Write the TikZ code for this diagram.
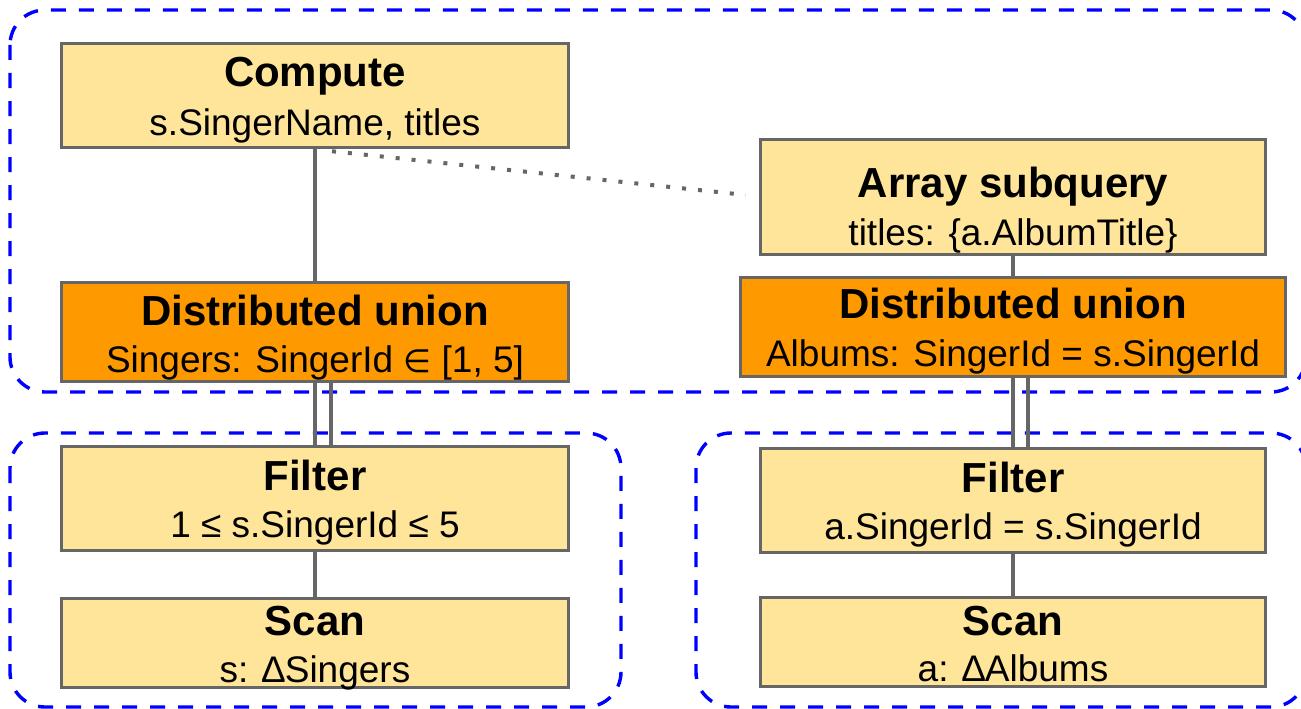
\documentclass[tikz,border=0pt]{standalone}
\usepackage{fontspec}
\setmainfont{Liberation Sans}
\newfontfamily\symfont{DejaVu Sans}
\definecolor{boxyellow}{HTML}{FFE599}
\definecolor{boxorange}{HTML}{FF9900}
\definecolor{linegray}{HTML}{666666}
\definecolor{groupblue}{HTML}{0000FF}
\begin{document}
\begin{tikzpicture}[x=1pt,y=-1pt,
  opbox/.style={draw=linegray, line width=3.5pt, fill=boxyellow, inner sep=0pt},
  unionbox/.style={opbox, fill=boxorange},
  ttl/.style={anchor=base, inner sep=0pt, font=\fontsize{42}{48}\selectfont\bfseries},
  subt/.style={anchor=base, inner sep=0pt, font=\fontsize{37}{44}\selectfont},
  group/.style={draw=groupblue, line width=3.4pt, dash pattern=on 15pt off 13pt, rounded corners=35pt},
  link/.style={draw=linegray, line width=3.5pt},
  dotlink/.style={draw=linegray, line width=4pt, dash pattern=on 4pt off 12pt},
  ]
\useasboundingbox (0,0) rectangle (1301,709);
% groups
\draw[group] (10,10) rectangle (1306,392);
\draw[group] (10,433) rectangle (621,707);
\draw[group] (696,433) rectangle (1306,707);
% boxes
\node[opbox, minimum width=507pt, minimum height=104pt] (compute) at (315,95.5) {};
\node[unionbox, minimum width=507pt, minimum height=99pt] (unionL) at (315,332) {};
\node[opbox, minimum width=505pt, minimum height=115pt] (array) at (1013,197) {};
\node[unionbox, minimum width=545pt, minimum height=99pt] (unionR) at (1013,327) {};
\node[opbox, minimum width=507pt, minimum height=104pt] (filterL) at (315,498.5) {};
\node[opbox, minimum width=507pt, minimum height=89pt] (scanL) at (315,643) {};
\node[opbox, minimum width=505pt, minimum height=104pt] (filterR) at (1013,500.5) {};
\node[opbox, minimum width=505pt, minimum height=89pt] (scanR) at (1013,642) {};
% texts
\node[ttl] (computeT) at (315,87) {Compute};
\node[subt] (computeS) at (315,135) {s.SingerName, titles};
\node[ttl] (unionLT) at (315,325) {Distributed union};
\node[subt] (unionLS) at (315,372) {Singers: SingerId {\symfont\fontsize{32}{40}\selectfont ∈} [1, 5]};
\node[ttl] (arrayT) at (1013,197) {Array subquery};
\node[subt] (arrayS) at (1013,245) {titles: \{a.AlbumTitle\}};
\node[ttl] (unionRT) at (1013,318) {Distributed union};
\node[subt] (unionRS) at (1013,366) {Albums: SingerId = s.SingerId};
\node[ttl] (filterLT) at (315,490) {Filter};
\node[subt] (filterLS) at (315,537) {1 ≤ s.SingerId ≤ 5};
\node[ttl] (scanLT) at (315,635) {Scan};
\node[subt] (scanLS) at (315,682) {s: ∆Singers};
\node[ttl] (filterRT) at (1013,492) {Filter};
\node[subt] (filterRS) at (1013,539) {a.SingerId = s.SingerId};
\node[ttl] (scanRT) at (1013,635) {Scan};
\node[subt] (scanRS) at (1013,681) {a: ∆Albums};
% connectors
\draw[link] (compute.south) -- (unionL.north);
\draw[link] (unionL.south) -- (filterL.north);
\draw[link] ([xshift=16pt]unionL.south) -- ([xshift=16pt]filterL.north);
\draw[link] (filterL.south) -- (scanL.north);
\draw[link] (array.south) -- (unionR.north);
\draw[link] (unionR.south) -- (filterR.north);
\draw[link] ([xshift=15pt]unionR.south) -- ([xshift=15pt]filterR.north);
\draw[link] (filterR.south) -- (scanR.north);
\draw[dotlink] ([xshift=17pt,yshift=-2pt]compute.south) -- ([xshift=-13pt,yshift=2pt]array.west);
\end{tikzpicture}
\end{document}
